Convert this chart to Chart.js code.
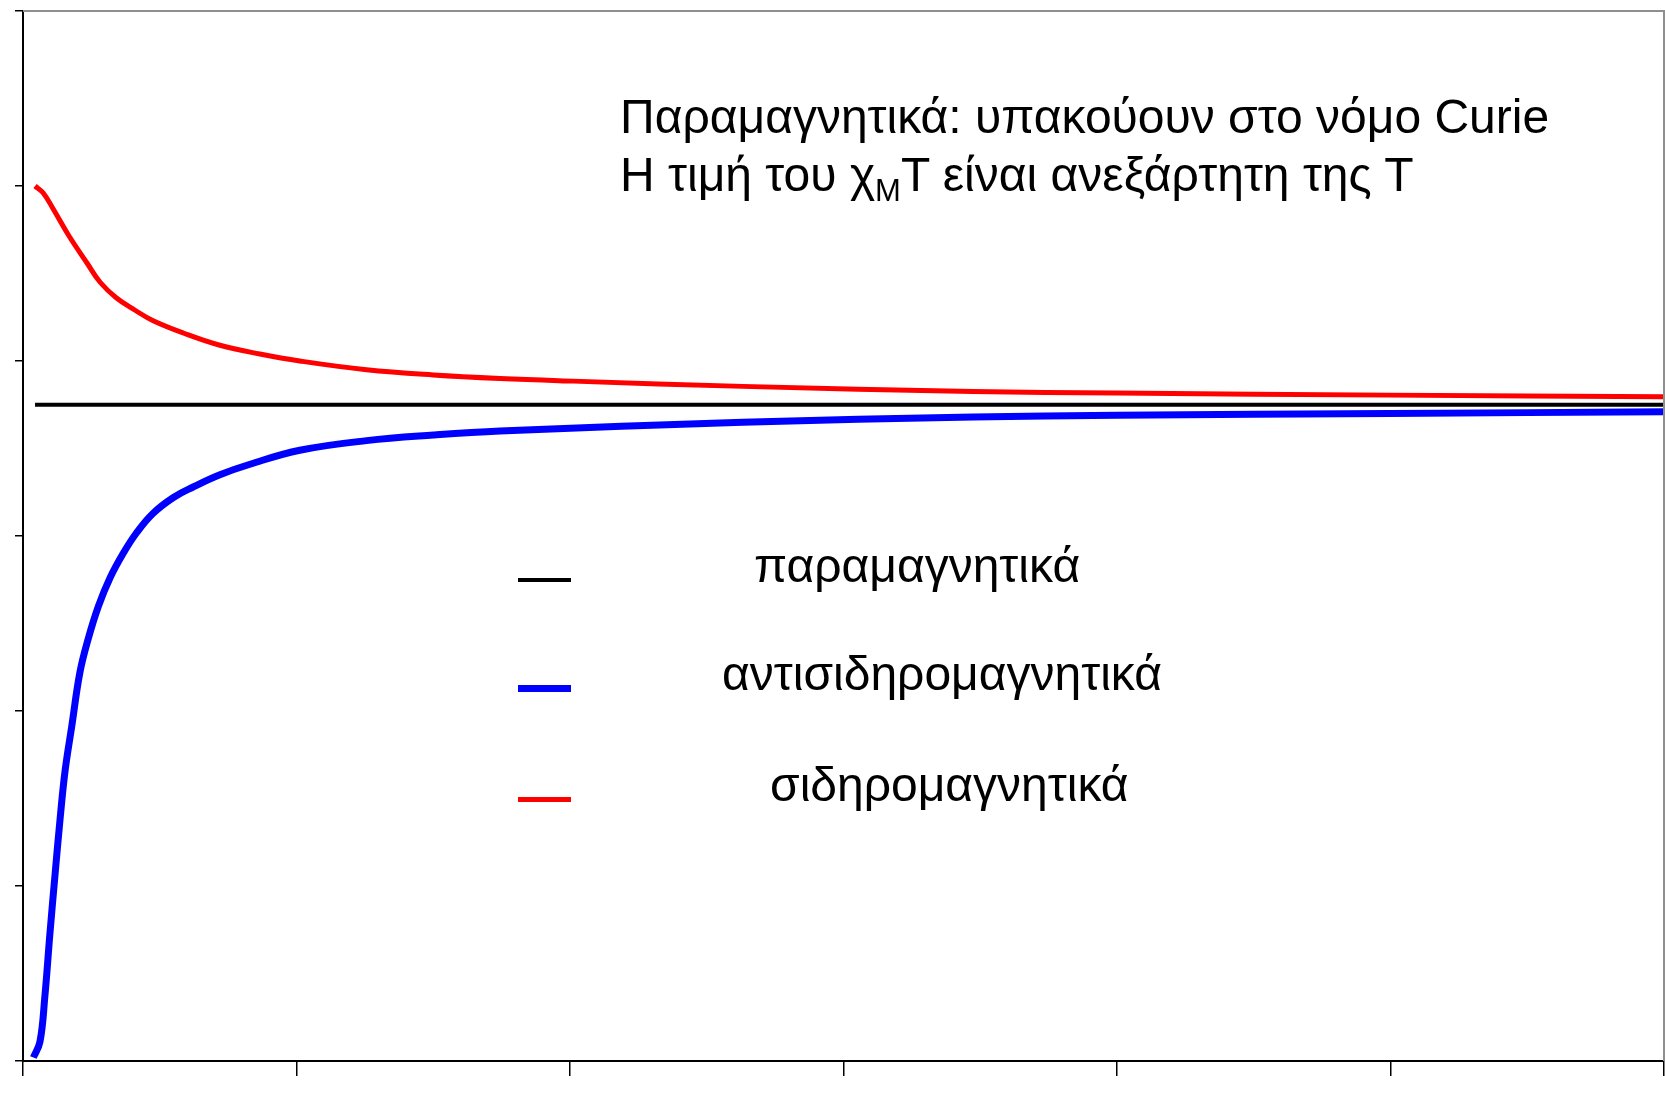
<!DOCTYPE html>
<html>
<head>
<meta charset="utf-8">
<script src="https://cdn.jsdelivr.net/npm/chart.js@4/dist/chart.umd.min.js"></script>
<style>
  body { margin: 0; background: #fff; }
  #wrap { position: relative; width: 1665px; height: 1106px; font-family: "Liberation Sans", Arial, sans-serif; }
  #note { position: absolute; left: 620px; top: 88px; font-size: 48px; line-height: 58px; color: #000; white-space: nowrap; }
  #note sub { font-size: 31px; vertical-align: -10px; line-height: 0; }
  .leg-line { position: absolute; left: 518px; width: 53px; }
  .leg-text { position: absolute; font-size: 48px; line-height: 58px; color: #000; white-space: nowrap; }
</style>
</head>
<body>
<div id="wrap">
  <canvas id="grafico" width="1665" height="1106"></canvas>
  <div id="note">Παραμαγνητικά: υπακούουν στο νόμο Curie<br>Η τιμή του χ<sub>Μ</sub>Τ είναι ανεξάρτητη της Τ</div>
  <div id="legenda"></div>
</div>
<script>
// θερμοκρασία (άξονας x) και χM*T (άξονας y)
const paraT = [2.2, 50, 100, 150, 200, 250, 300];
const paraChi = [3.75, 3.75, 3.75, 3.75, 3.75, 3.75, 3.75];

const antiT = [1.9, 3.1, 4.0, 4.9, 5.9, 6.8, 7.7, 8.9, 10.4, 11.9, 13.8, 15.9, 18.3, 20.8, 23.8, 27.5, 31.1, 36, 41.5, 50.6, 62.8, 75, 87.2, 131.6, 173.7, 200, 250, 300];
const antiChi = [0.02, 0.11, 0.37, 0.72, 1.08, 1.39, 1.66, 1.91, 2.22, 2.41, 2.60, 2.76, 2.90, 3.02, 3.13, 3.22, 3.28, 3.35, 3.41, 3.49, 3.545, 3.577, 3.60, 3.65, 3.68, 3.69, 3.70, 3.71];

const ferroT = [2.2, 3.7, 5.5, 8.3, 11.7, 14.1, 17.1, 20.5, 23.8, 29.3, 36, 43.3, 50.6, 62.8, 75, 87.2, 100.6, 131.6, 173.7, 200, 250, 300];
const ferroChi = [5.0, 4.96, 4.87, 4.72, 4.56, 4.45, 4.36, 4.29, 4.23, 4.16, 4.09, 4.04, 4.0, 3.95, 3.92, 3.90, 3.885, 3.855, 3.826, 3.817, 3.805, 3.796];

const labels = ["παραμαγνητικά", "αντισιδηρομαγνητικά", "σιδηρομαγνητικά"];

const xTicks = [0, 50, 100, 150, 200, 250, 300];
const yTicks = [0, 1, 2, 3, 4, 5, 6];

function pontos(xs, ys) {
    return xs.map((x, i) => ({ x: x, y: ys[i] }));
}

// moldura cinza em cima e à direita
const moldura = {
    id: "moldura",
    afterDraw(chart) {
        const a = chart.chartArea;
        const c = chart.ctx;
        c.save();
        c.strokeStyle = "#8f8f8f";
        c.lineWidth = 2;
        c.beginPath();
        c.moveTo(a.left, a.top);
        c.lineTo(a.right, a.top);
        c.lineTo(a.right, a.bottom);
        c.stroke();
        c.restore();
    }
};

const ctx = document.getElementById("grafico").getContext("2d");
const grafico = new Chart(ctx, {
    type: "scatter",
    data: {
        datasets: [
            { label: labels[0], data: pontos(paraT, paraChi), borderColor: "#000000", borderWidth: 4, legendWidth: 4 },
            { label: labels[1], data: pontos(antiT, antiChi), borderColor: "#0000ff", borderWidth: 7, legendWidth: 7 },
            { label: labels[2], data: pontos(ferroT, ferroChi), borderColor: "#ff0000", borderWidth: 5, legendWidth: 5 },
        ],
    },
    options: {
        responsive: false,
        animation: false,
        devicePixelRatio: 1,
        showLine: true,
        elements: {
            point: { radius: 0, hoverRadius: 0 },
            line: { tension: 0.4, fill: false },
        },
        layout: { padding: { top: 11, right: 1, left: 0, bottom: 0 } },
        plugins: { legend: { display: false }, tooltip: { enabled: false } },
        scales: {
            x: {
                type: "linear",
                min: 0,
                max: 300,
                afterBuildTicks: (s) => { s.ticks = xTicks.map(v => ({ value: v })); },
                afterFit: (s) => { s.height = 45; },
                ticks: { display: false },
                grid: { drawOnChartArea: false, drawTicks: true, tickLength: 15, color: "#000", lineWidth: 1.5 },
                border: { display: true, color: "#000", width: 2 },
            },
            y: {
                type: "linear",
                min: 0,
                max: 6,
                afterBuildTicks: (s) => { s.ticks = yTicks.map(v => ({ value: v })); },
                afterFit: (s) => { s.width = 23; },
                ticks: { display: false },
                grid: { drawOnChartArea: false, drawTicks: true, tickLength: 8, color: "#000", lineWidth: 1.5 },
                border: { display: true, color: "#000", width: 2 },
            },
        },
    },
    plugins: [moldura],
});

// legenda montada a partir dos datasets
const legLinhaY = [580, 688, 799];
const legTextoX = [754, 722, 770];
const legenda = document.getElementById("legenda");
grafico.data.datasets.forEach((ds, i) => {
    const linha = document.createElement("div");
    linha.className = "leg-line";
    linha.style.top = (legLinhaY[i] - ds.legendWidth / 2) + "px";
    linha.style.height = ds.legendWidth + "px";
    linha.style.background = ds.borderColor;
    legenda.appendChild(linha);

    const texto = document.createElement("div");
    texto.className = "leg-text";
    texto.textContent = ds.label;
    texto.style.left = legTextoX[i] + "px";
    texto.style.top = (legLinhaY[i] + 3 - 46) + "px";
    legenda.appendChild(texto);
});
</script>
</body>
</html>
